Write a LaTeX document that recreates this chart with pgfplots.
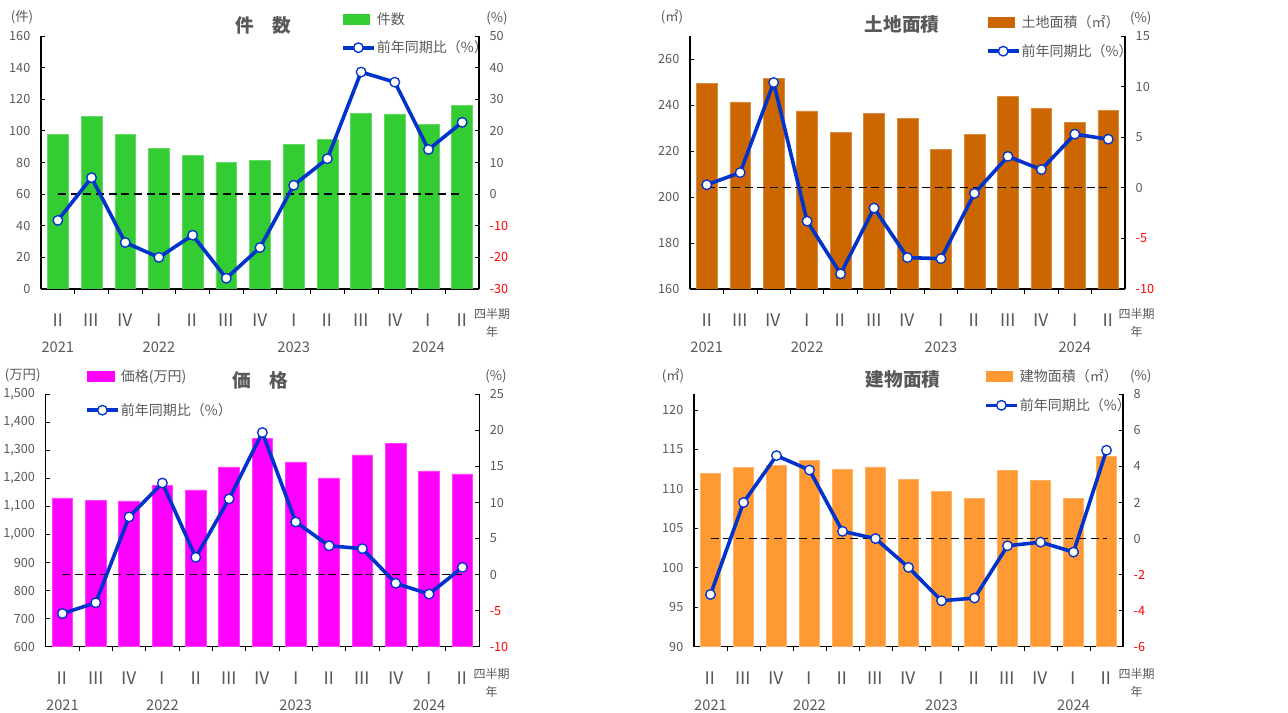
\documentclass[border=0pt]{standalone}
\usepackage{pgfplots}
\usepackage{pgfplotstable}
\pgfplotsset{compat=1.18}
\usepackage{fontspec}
\setmainfont{Noto Sans CJK JP}
\definecolor{tgray}{HTML}{595959}
\definecolor{cgreen}{HTML}{33CC33}
\definecolor{cbrown}{HTML}{CC6600}
\definecolor{cmag}{HTML}{FF00FF}
\definecolor{corange}{HTML}{FF9933}
\definecolor{lblue}{HTML}{0033CC}

\pgfplotstableread{
x cnt cntr land landr price pricer bld bldr
0 97.6 -8.3 249.4 0.3 1131 -5.4 112.0 -3.1
1 109.2 5.2 241.4 1.5 1123 -3.9 112.7 2.0
2 98.0 -15.3 251.7 10.4 1120 8.0 113.0 4.6
3 88.7 -20.0 237.4 -3.3 1174 12.7 113.6 3.8
4 84.7 -13.0 228.1 -8.5 1159 2.4 112.5 0.4
5 80.1 -26.6 236.4 -2.0 1241 10.5 112.8 0.0
6 81.4 -16.9 234.3 -6.9 1342 19.7 111.25 -1.6
7 91.3 2.8 220.7 -7.0 1259 7.3 109.7 -3.45
8 94.6 11.2 227.1 -0.55 1202 4.0 108.8 -3.3
9 111.1 38.6 243.8 3.1 1284 3.6 112.35 -0.4
10 110.7 35.4 238.6 1.8 1326 -1.2 111.1 -0.2
11 104.3 14.1 232.5 5.3 1227 -2.7 108.8 -0.75
12 116.1 22.7 237.8 4.8 1216 1.0 114.1 4.9
}\data

\pgfplotsset{
  barax/.style={
    scale only axis, xmin=-0.5, xmax=12.5,
    axis y line*=left, axis x line*=bottom,
    axis line style={black, line width=0.8pt},
    tick align=inside, major tick length=3pt, minor tick length=3.5pt,
    tick style={black, line width=0.6pt},
    /pgf/number format/assume math mode=true,
    xtick={0,...,12},
    xticklabels={Ⅱ,Ⅲ,Ⅳ,Ⅰ,Ⅱ,Ⅲ,Ⅳ,Ⅰ,Ⅱ,Ⅲ,Ⅳ,Ⅰ,Ⅱ},
    major x tick style={draw=none},
    minor xtick={0.5,1.5,...,11.5},
    xticklabel style={font=\fontsize{13}{13}\selectfont, text=tgray, yshift=-12pt},
    extra x ticks={0,3,7,11},
    extra x tick labels={2021,2022,2023,2024},
    extra x tick style={major tick length=0pt, xticklabel style={yshift=-24pt, font=\fontsize{11}{11}\selectfont}},
    yticklabel style={font=\fontsize{9.5}{10}\selectfont, text=tgray, xshift=-4.5pt},
    ybar, bar width=0.62,
  },
  lineax/.style={
    scale only axis, xmin=-0.5, xmax=12.5,
    axis y line*=right, axis x line=none,
    axis line style={black, line width=0.8pt},
    tick align=inside, major tick length=3pt,
    tick style={black, line width=0.6pt},
    yticklabel style={font=\fontsize{9.5}{10}\selectfont, text=tgray, xshift=4.5pt},
    clip=false,
    legend style={draw=none, fill=none, anchor=north west, font=\fontsize{10.5}{11}\selectfont,
      inner sep=0pt, nodes={inner sep=1pt, text=tgray}, cells={anchor=west}, row sep=9pt},
  },
  bluel/.style={lblue, line width=2.7pt, mark=*, mark size=3.6pt,
    mark options={fill=white, draw=lblue, line width=1pt},
    legend image code/.code={\draw[mark repeat=2,mark phase=2] plot coordinates {(0pt,0pt) (11.5pt,0pt) (23pt,0pt)};}},
  zline/.style={black, line width=1pt, dash pattern=on 6pt off 3.5pt, forget plot, mark=none},
}
\newcommand{\tfont}{\fontsize{14}{15}\selectfont\bfseries}
\newcommand{\ufont}{\fontsize{10}{11}\selectfont}
\newcommand{\qfont}{\fontsize{9}{10}\selectfont}

\begin{document}
\begin{tikzpicture}
\useasboundingbox (0,0) rectangle (966pt,534.75pt);

% ---------- Panel 1: 件数
\begin{axis}[barax, at={(30.75pt,318pt)}, anchor=south west, width=328.5pt, height=189.75pt,
  ymin=0, ymax=160, ytick={0,20,...,160}]
\addplot[fill=cgreen, draw=cgreen!75!white, line width=0.4pt] table[x=x,y=cnt]{\data};
\end{axis}
\begin{axis}[lineax, at={(30.75pt,318pt)}, anchor=south west, width=328.5pt, height=189.75pt,
  ymin=-30, ymax=50, ytick={-30,-20,...,50},
  yticklabels={\textcolor{red}{-30},\textcolor{red}{-20},\textcolor{red}{-10},0,10,20,30,40,50},
  legend style={at={(0.685,1.100)}}]
\addplot[zline] coordinates {(0,0) (12,0)};
\addlegendimage{legend image code/.code={\fill[cgreen] (0pt,-3.75pt) rectangle (20pt,3.75pt);}}
\addlegendentry{件数}
\addplot[bluel] table[x=x,y=cntr]{\data};
\addlegendentry{前年同期比（\%）}
\end{axis}
\node[text=tgray, font=\ufont] at (16.5pt,522pt) {(件)};
\node[text=tgray, font=\ufont] at (372.75pt,521.25pt) {(\%)};
\node[text=tgray, font=\tfont] at (197.25pt,516pt) {件　数};
\node[text=tgray, font=\qfont] at (369pt,299.25pt) {四半期};
\node[text=tgray, font=\qfont] at (369pt,285.75pt) {年};

% ---------- Panel 2: 土地面積
\begin{axis}[barax, at={(517.5pt,318pt)}, anchor=south west, width=326.25pt, height=189.75pt,
  ymin=160, ymax=270, ytick={160,180,...,260}]
\addplot[fill=cbrown, draw=cbrown!75!white, line width=0.4pt] table[x=x,y=land]{\data};
\end{axis}
\begin{axis}[lineax, at={(517.5pt,318pt)}, anchor=south west, width=326.25pt, height=189.75pt,
  ymin=-10, ymax=15, ytick={-10,-5,...,15},
  yticklabels={\textcolor{red}{-10},\textcolor{red}{-5},0,5,10,15},
  legend style={at={(0.680,1.088)}}]
\addplot[zline] coordinates {(0,0) (12,0)};
\addlegendimage{legend image code/.code={\fill[cbrown] (0pt,-3.75pt) rectangle (20pt,3.75pt);}}
\addlegendentry{土地面積（㎡）}
\addplot[bluel] table[x=x,y=landr]{\data};
\addlegendentry{前年同期比（\%）}
\end{axis}
\node[text=tgray, font=\ufont] at (504pt,522pt) {(㎡)};
\node[text=tgray, font=\ufont] at (855.5pt,521.25pt) {(\%)};
\node[text=tgray, font=\tfont] at (676.5pt,516.75pt) {土地面積};
\node[text=tgray, font=\qfont] at (852.5pt,299.25pt) {四半期};
\node[text=tgray, font=\qfont] at (852.5pt,285.75pt) {年};

% ---------- Panel 3: 価格
\begin{axis}[barax, at={(34.3pt,49.7pt)}, anchor=south west, width=325pt, height=189.3pt,
  ymin=600, ymax=1500, ytick={600,700,...,1500},
  yticklabels={600,700,800,900,{1,000},{1,100},{1,200},{1,300},{1,400},{1,500}}]
\addplot[fill=cmag, draw=cmag!75!white, line width=0.4pt] table[x=x,y=price]{\data};
\end{axis}
\begin{axis}[lineax, at={(34.3pt,49.7pt)}, anchor=south west, width=325pt, height=189.3pt,
  ymin=-10, ymax=25, ytick={-10,-5,...,25},
  yticklabels={\textcolor{red}{-10},\textcolor{red}{-5},0,5,10,15,20,25},
  legend style={at={(0.0907,1.105)}, row sep=13pt}]
\addplot[zline] coordinates {(0,0) (12,0)};
\addlegendimage{legend image code/.code={\fill[cmag] (0pt,-3.75pt) rectangle (20pt,3.75pt);}}
\addlegendentry{価格(万円)}
\addplot[bluel] table[x=x,y=pricer]{\data};
\addlegendentry{前年同期比（\%）}
\end{axis}
\node[text=tgray, font=\ufont] at (17pt,253pt) {(万円)};
\node[text=tgray, font=\ufont] at (372pt,252.75pt) {(\%)};
\node[text=tgray, font=\tfont] at (195pt,249.75pt) {価　格};
\node[text=tgray, font=\qfont] at (368.75pt,29.25pt) {四半期};
\node[text=tgray, font=\qfont] at (368.75pt,15.5pt) {年};

% ---------- Panel 4: 建物面積
\begin{axis}[barax, at={(520.5pt,49.7pt)}, anchor=south west, width=321.75pt, height=189.3pt,
  ymin=90, ymax=122, ytick={90,95,...,120}]
\addplot[fill=corange, draw=corange!75!white, line width=0.4pt] table[x=x,y=bld]{\data};
\end{axis}
\begin{axis}[lineax, at={(520.5pt,49.7pt)}, anchor=south west, width=321.75pt, height=189.3pt,
  ymin=-6, ymax=8, ytick={-6,-4,...,8},
  yticklabels={\textcolor{red}{-6},\textcolor{red}{-4},\textcolor{red}{-2},0,2,4,6,8},
  legend style={at={(0.676,1.105)}}]
\addplot[zline] coordinates {(0,0) (12,0)};
\addlegendimage{legend image code/.code={\fill[corange] (0pt,-3.75pt) rectangle (20pt,3.75pt);}}
\addlegendentry{建物面積（㎡）}
\addplot[bluel] table[x=x,y=bldr]{\data};
\addlegendentry{前年同期比（\%）}
\end{axis}
\node[text=tgray, font=\ufont] at (504.75pt,252.75pt) {(㎡)};
\node[text=tgray, font=\ufont] at (855.5pt,252.75pt) {(\%)};
\node[text=tgray, font=\tfont] at (677.25pt,250.25pt) {建物面積};
\node[text=tgray, font=\qfont] at (852.5pt,29.25pt) {四半期};
\node[text=tgray, font=\qfont] at (852.5pt,15.5pt) {年};
\end{tikzpicture}
\end{document}
